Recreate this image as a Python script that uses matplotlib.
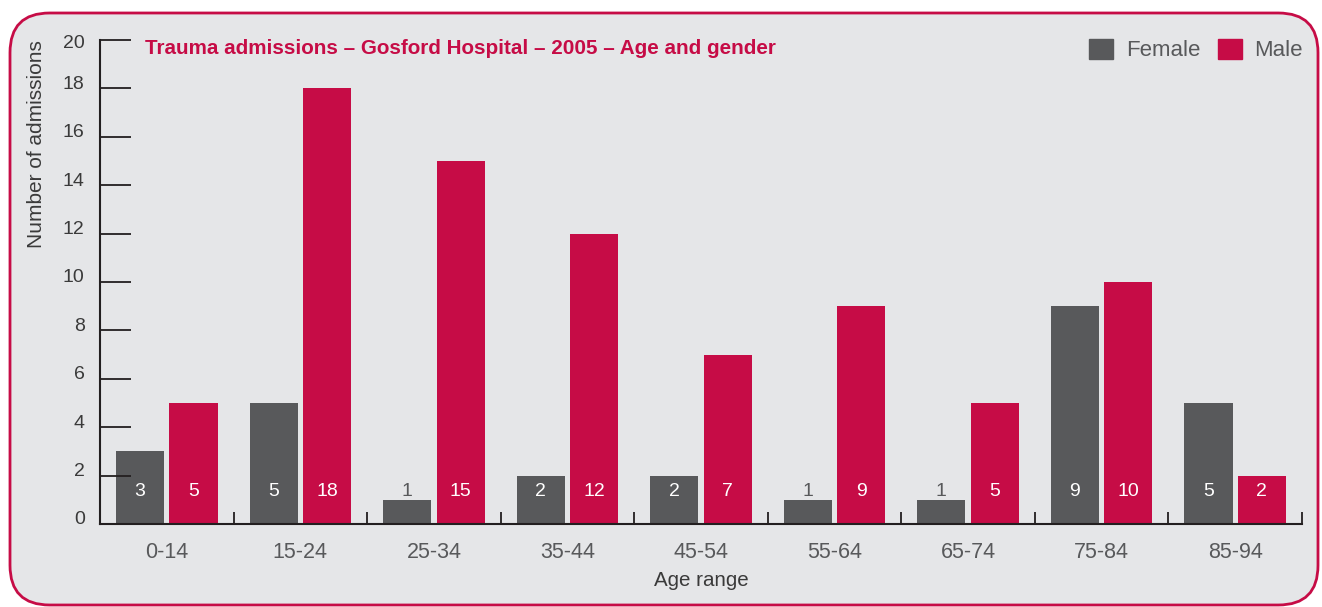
import matplotlib.pyplot as plt
import numpy as np
from matplotlib.patches import FancyBboxPatch, Patch
from matplotlib.transforms import offset_copy

plt.rcParams['font.family'] = ['Liberation Sans', 'DejaVu Sans']

# data
age_ranges = ['0-14', '15-24', '25-34', '35-44', '45-54', '55-64', '65-74', '75-84', '85-94']
female = [3, 5, 1, 2, 2, 1, 1, 9, 5]
male = [5, 18, 15, 12, 7, 9, 5, 10, 2]

grey = '#58595b'
red = '#c60c46'
panel = '#e5e6e8'

fig = plt.figure(figsize=(13.22, 6.07), dpi=100)
W, H = 1322, 607

# rounded background panel
box = FancyBboxPatch((10 / W, 2 / H), 1308 / W, 592 / H,
                     boxstyle='round,pad=0,rounding_size=0.03',
                     transform=fig.transFigure, facecolor=panel,
                     edgecolor=red, linewidth=2, mutation_aspect=W / H, zorder=-10)
fig.patches.append(box)

ax = fig.add_axes([100 / W, 83 / H, 1202 / W, 484 / H])
ax.set_facecolor('none')

x = np.arange(len(age_ranges))
bw = 0.36
off = 0.2
ax.bar(x - off, female, bw, color=grey, label='Female')
ax.bar(x + off, male, bw, color=red, label='Male')

# value labels at fixed height
for i in range(len(x)):
    for xi, v in ((x[i] - off, female[i]), (x[i] + off, male[i])):
        c = 'white' if v > 1 else grey
        ax.text(xi, 1.35, str(v), ha='center', va='center', fontsize=14, color=c)

ax.set_xlim(-0.5, 8.5)
ax.set_ylim(0, 20)
ax.set_yticks(range(0, 21, 2))
ax.set_xticks(x)
ax.set_xticklabels(age_ranges, fontsize=15.5, color=grey)
ax.set_xticks(np.arange(0.5, 9, 1), minor=True)
ax.tick_params(axis='x', which='major', length=0, pad=13)
ax.tick_params(axis='x', which='minor', direction='in', length=9, width=1.3, color='#231f20')
ax.tick_params(axis='y', direction='in', length=22, width=1.3, color='#231f20',
               labelsize=14, labelcolor='#3a3a3a', pad=11)
for lab in ax.get_yticklabels():
    dy = -2 if lab.get_text() == '20' else 6
    lab.set_transform(offset_copy(lab.get_transform(), fig=fig, x=0, y=dy, units='dots'))

for s in ['top', 'right']:
    ax.spines[s].set_visible(False)
for s in ['left', 'bottom']:
    ax.spines[s].set_color('#231f20')
    ax.spines[s].set_linewidth(1.5)

ax.set_xlabel('Age range', fontsize=14.8, color='#3a3a3a', labelpad=6)
ax.set_ylabel('Number of admissions', fontsize=15, color='#3a3a3a')
ax.yaxis.set_label_coords(-0.045, 0.785)

fig.text(145 / W, 1 - 48 / H, 'Trauma admissions \u2013 Gosford Hospital \u2013 2005 \u2013 Age and gender',
         fontsize=14.9, color=red, fontweight='bold', va='center', ha='left')

handles = [Patch(color=grey), Patch(color=red)]
fig.legend(handles, ['Female', 'Male'], loc='center right', bbox_to_anchor=(1323 / W, 1 - 50 / H),
           ncol=2, frameon=False, fontsize=16, labelcolor=grey, handlelength=1.1,
           handleheight=1.0, handletextpad=0.55, columnspacing=0.8)

fig.savefig('out.png', dpi=100, facecolor='white')
